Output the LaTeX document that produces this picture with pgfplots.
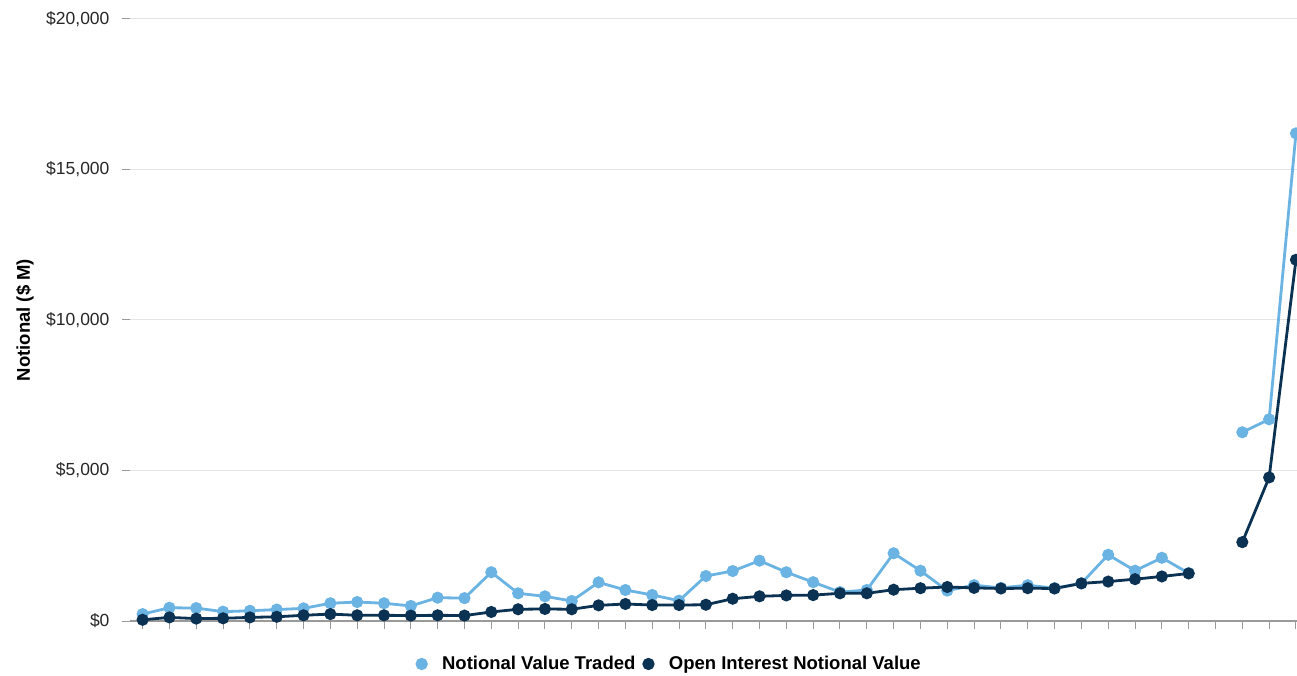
\documentclass[border=0pt]{standalone}
\usepackage{fontspec}
\setmainfont{Liberation Sans}
\usepackage{pgfplots}
\pgfplotsset{compat=1.18}

\definecolor{nvt}{HTML}{6AB3E3}
\definecolor{oinv}{HTML}{0B3153}
\definecolor{gridgray}{HTML}{E4E4E4}
\definecolor{axisgray}{HTML}{9A9A9A}

\begin{document}
\begin{tikzpicture}[x=1pt,y=1pt]
\path[use as bounding box] (0,0) rectangle (1297,675);
\begin{axis}[
  at={(130pt,54pt)}, anchor=south west,
  scale only axis, width=1167pt, height=602pt,
  xmin=-0.47, xmax=43.04, ymin=0, ymax=20000,
  axis lines*=left,
  y axis line style={draw=none},
  x axis line style={axisgray, line width=1.2pt},
  xtick={0,...,43}, xticklabels={},
  ytick={0,5000,10000,15000,20000},
  yticklabels={\$0,{\$5,000},{\$10,000},{\$15,000},{\$20,000}},
  scaled y ticks=false,
  tick align=outside, major tick length=8pt,
  tick style={axisgray, line width=1pt},
  ymajorgrids, grid style={gridgray, line width=1pt},
  /pgf/number format/assume math mode=true,
  yticklabel style={font=\fontsize{17.5}{20}\selectfont, text=black!85, xshift=-9pt},
  ylabel={Notional (\$ M)},
  ylabel style={at={(axis description cs:0,0.5)}, anchor=center, yshift=105pt,
    font=\fontsize{18.5}{22}\selectfont\bfseries},
  unbounded coords=jump,
  legend columns=2,
  legend style={at={(axis description cs:0.462,-0.0714)}, anchor=center, draw=none,
    font=\fontsize{18.5}{21}\selectfont\bfseries, column sep=5pt},
  legend image code/.code={\fill[#1] (0pt,0pt) circle (4.7pt); \path (-4.7pt,0pt) (12pt,0pt);},
]

\addplot[nvt, line width=2.8pt, mark=*, mark size=4.6pt, mark options={solid}] table {
x y
0 230
1 440
2 430
3 310
4 340
5 380
6 420
7 590
8 630
9 590
10 500
11 775
12 760
13 1620
14 920
15 820
16 665
17 1285
18 1030
19 865
20 675
21 1495
22 1660
23 2005
24 1620
25 1290
26 960
27 1030
28 2250
29 1670
30 1010
31 1190
32 1100
33 1190
34 1090
35 1250
36 2200
37 1670
38 2100
39 1590
40 nan
41 6270
42 6700
43 16200
};
\addlegendentry{Notional Value Traded}

\addplot[oinv, line width=2.8pt, mark=*, mark size=4.6pt, mark options={solid}] table {
x y
0 40
1 120
2 80
3 90
4 120
5 140
6 190
7 230
8 190
9 190
10 180
11 190
12 180
13 300
14 390
15 400
16 390
17 520
18 565
19 530
20 530
21 540
22 740
23 820
24 850
25 860
26 920
27 920
28 1040
29 1090
30 1130
31 1100
32 1080
33 1090
34 1080
35 1250
36 1310
37 1390
38 1480
39 1580
40 nan
41 2620
42 4770
43 12000
};
\addlegendentry{Open Interest Notional Value}

\end{axis}
\end{tikzpicture}
\end{document}
